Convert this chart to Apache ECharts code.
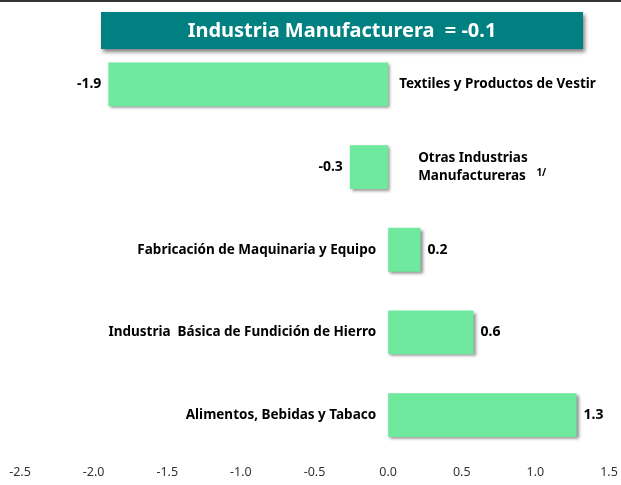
<!DOCTYPE html>
<html>
<head>
<meta charset="utf-8">
<script src="https://cdn.jsdelivr.net/npm/echarts@6/dist/echarts.min.js"></script>
<style>html,body{margin:0;padding:0;background:#fff}#c{width:621px;height:485px}</style>
</head>
<body>
<div id="c"></div>
<script>
var categories = ['Textiles y Productos de Vestir', 'Otras Industrias Manufactureras', 'Fabricación de Maquinaria y Equipo', 'Industria  Básica de Fundición de Hierro', 'Alimentos, Bebidas y Tabaco'];
var values = [-1.9, -0.26, 0.22, 0.58, 1.28];
var valueLabels = ['-1.9', '-0.3', '0.2', '0.6', '1.3'];
var xTicks = [-2.5, -2.0, -1.5, -1.0, -0.5, 0.0, 0.5, 1.0, 1.5];
var titleText = 'Industria Manufacturera  = -0.1';

var FONT = '"Noto Sans", "Open Sans", sans-serif';
var chart = echarts.init(document.getElementById('c'), null, {renderer: 'canvas'});

var barData = values.map(function (v, i) {
  return {
    value: v,
    label: {
      show: true,
      position: v < 0 ? 'left' : 'right',
      distance: 7,
      formatter: valueLabels[i],
      color: '#000',
      fontWeight: 'bold',
      fontSize: 14,
      fontFamily: FONT
    }
  };
});

var catData = categories.map(function (c, i) {
  var neg = values[i] < 0;
  var lab = {
    show: true,
    position: neg ? 'right' : 'left',
    distance: neg ? 11 : 12,
    formatter: c,
    color: '#000',
    opacity: 1,
    fontWeight: 'bold',
    fontSize: 13.5,
    fontFamily: FONT
  };
  if (i === 1) {
    lab.distance = 30;
    lab.formatter = '{b|Otras Industrias}\n{b|Manufactureras}   {s|1/}';
    lab.rich = {
      b: {fontWeight: 'bold', fontSize: 13.5, fontFamily: FONT, color: '#000', lineHeight: 18},
      s: {fontSize: 10, fontFamily: FONT, color: '#000', padding: [0, 0, 6, 0]}
    };
  }
  return {value: [0, i], label: lab, itemStyle: {opacity: 1}};
});

chart.setOption({
  animation: false,
  backgroundColor: '#fff',
  grid: {left: 20, right: 12, top: 43, bottom: 28.5, containLabel: false, outerBoundsMode: 'none'},
  xAxis: {
    type: 'value',
    min: -2.5, max: 1.5, interval: 0.5,
    axisLine: {show: false},
    axisTick: {show: false},
    splitLine: {show: false},
    axisLabel: {
      color: '#333333', fontSize: 12.5, fontFamily: FONT, margin: 9,
      showMinLabel: true, showMaxLabel: true,
      formatter: function (v) { return v.toFixed(1); }
    }
  },
  yAxis: {
    type: 'category',
    data: categories.map(function (c, i) { return i; }),
    inverse: true,
    show: false
  },
  series: [
    {
      type: 'bar',
      data: barData,
      barCategoryGap: '47%',
      itemStyle: {
        color: '#6FE99E',
        shadowColor: 'rgba(0,0,0,0.45)',
        shadowBlur: 3,
        shadowOffsetX: 2,
        shadowOffsetY: 2
      }
    },
    {
      type: 'scatter',
      data: catData,
      symbolSize: 0,
      silent: true,
      itemStyle: {opacity: 1, color: '#000'},
      z: 5
    }
  ],
  graphic: [
    {type: 'rect', left: 0, top: 0, shape: {width: 621, height: 2}, style: {fill: '#333333'}},
    {
      type: 'rect', left: 101, top: 12,
      shape: {width: 482, height: 37},
      style: {fill: '#008080', shadowColor: 'rgba(0,0,0,0.5)', shadowBlur: 4, shadowOffsetX: 2, shadowOffsetY: 3}
    },
    {
      type: 'text', x: 342, y: 31,
      style: {
        text: titleText, fill: '#fff', font: 'bold 20px "Noto Sans", "Open Sans", sans-serif',
        textAlign: 'center', textVerticalAlign: 'middle'
      }
    }
  ]
});
</script>
</body>
</html>
